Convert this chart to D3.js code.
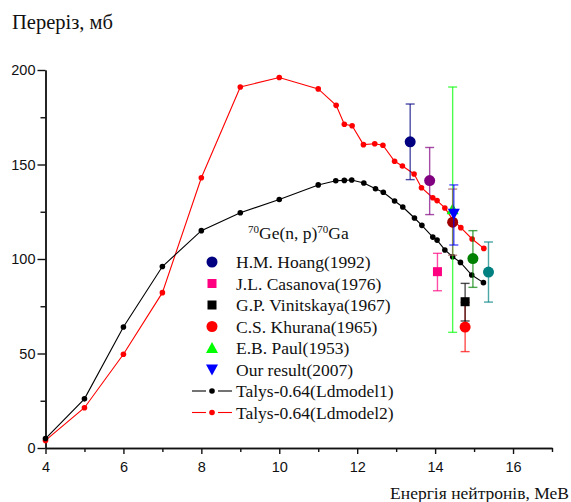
<!DOCTYPE html>
<html>
<head>
<meta charset="utf-8">
<script src="https://cdn.jsdelivr.net/npm/d3@7"></script>
<style>
  body { margin: 0; background: #fff; }
  svg { display: block; }
  .tick text { font-family: "Liberation Sans", Arial, sans-serif; font-size: 14.5px; fill: #111; }
  .serif { font-family: "Liberation Serif", "Times New Roman", serif; fill: #111; }
</style>
</head>
<body>
<svg id="chart" width="571" height="502"></svg>
<script>
// Talys-0.64 curves
const energies1 = [4,5,6,7,8,9,10,11,11.45,11.67,11.86,12.17,12.47,12.67,12.96,13.17,13.47,13.66,13.94,14.05,14.25,14.45,14.65,14.94,15.24];
const ldmodel1 = [5,26,64,96,115,124.5,131.5,139.2,141.4,141.6,141.8,140.2,137.2,135.3,130.7,127.5,121.7,117.8,111.6,110,104.8,101.2,98.2,91.5,87.5];
const energies2 = [4,5,6,7,8,9,10,11,11.46,11.67,11.87,12.16,12.45,12.66,12.96,13.16,13.46,13.65,13.94,14.05,14.25,14.46,14.66,14.95,15.25];
const ldmodel2 = [4,21.3,49.6,82.2,143,191,196,190,181.3,171.3,170.5,160.5,161,160.2,151.7,149.2,145,137.7,132.4,130.9,127,120.6,116.6,110.6,105.6];

// experimental points: energy, value, low, high
const hoang = [[13.36,162,142,182]];
const purple = [[13.86,141.5,123.5,159]];
const casanova = [[14.06,93.3,83.2,103]];
const vinitskaya = [[14.77,77.4,67.2,87.1]];
const khurana = [[14.77,64,51,77]];
const darkred = [[14.45,119.5,102,137]];
const paul = [[14.45,126.3,61.2,191]];
const ourResult = [[14.48,124,107.4,139.2]];
const greenPt = [[14.97,100.2,85,115]];
const tealPt = [[15.37,93.1,77.2,109]];

const legendLabels = ["H.M. Hoang(1992)","J.L. Casanova(1976)","G.P. Vinitskaya(1967)","C.S. Khurana(1965)","E.B. Paul(1953)","Our result(2007)","Talys-0.64(Ldmodel1)","Talys-0.64(Ldmodel2)"];

const svg = d3.select("#chart");
const x = d3.scaleLinear().domain([4,17]).range([45.5,552]);
const y = d3.scaleLinear().domain([0,200]).range([448,70]);

// axes
const xMajor = d3.axisBottom(x).tickValues([4,6,8,10,12,14,16]).tickSize(6).tickSizeOuter(0).tickFormat(d3.format("d"));
const xMinor = d3.axisBottom(x).tickValues([5,7,9,11,13,15,17]).tickSize(4).tickSizeOuter(0).tickFormat("");
const yMajor = d3.axisLeft(y).tickValues([0,50,100,150,200]).tickSize(8).tickSizeOuter(0);
const yMinor = d3.axisLeft(y).tickValues([25,75,125,175]).tickSize(5).tickSizeOuter(0).tickFormat("");

function styleAxis(g) {
  g.selectAll("path,line").attr("stroke","#111").attr("stroke-width",1.4);
}
svg.append("g").attr("transform","translate(0,448)").call(xMinor).call(styleAxis);
svg.append("g").attr("transform","translate(0,448)").call(xMajor).call(styleAxis)
  .selectAll("text").attr("dy","1.0em");
svg.append("g").attr("transform","translate(45.5,0)").call(yMinor).call(styleAxis);
svg.append("g").attr("transform","translate(45.5,0)").call(yMajor).call(styleAxis)
  .selectAll("text").attr("x",-10);

// titles
svg.append("text").attr("class","serif").attr("x",12).attr("y",29).attr("font-size",20.5).text("Переріз, мб");
svg.append("text").attr("class","serif").attr("x",569).attr("y",499).attr("text-anchor","end")
  .attr("font-size",17.5).text("Енергія нейтронів, МеВ");

// curves
const line = d3.line().x(d=>x(d[0])).y(d=>y(d[1]));
function curve(es, vs, color) {
  const pts = es.map((e,i)=>[e,vs[i]]);
  svg.append("path").datum(pts).attr("d",line).attr("fill","none").attr("stroke",color).attr("stroke-width",1.1);
  svg.append("g").selectAll("circle").data(pts).enter().append("circle")
    .attr("cx",d=>x(d[0])).attr("cy",d=>y(d[1])).attr("r",2.8).attr("fill",color);
}
curve(energies2, ldmodel2, "#ff0000");
curve(energies1, ldmodel1, "#000000");

// markers
function marker(g, shape, cx, cy, color) {
  if (shape==="circle") g.append("circle").attr("cx",cx).attr("cy",cy).attr("r",5.5).attr("fill",color);
  else if (shape==="square") g.append("rect").attr("x",cx-4.5).attr("y",cy-4.5).attr("width",9).attr("height",9).attr("fill",color);
  else if (shape==="up") g.append("path").attr("d",`M${cx},${cy-6}L${cx+6},${cy+5}L${cx-6},${cy+5}Z`).attr("fill",color);
  else if (shape==="down") g.append("path").attr("d",`M${cx},${cy+6}L${cx+6},${cy-5}L${cx-6},${cy-5}Z`).attr("fill",color);
}
function points(data, shape, color, barColor) {
  const g = svg.append("g");
  data.forEach(d=>{
    const cx = x(d[0]);
    g.append("line").attr("x1",cx).attr("x2",cx).attr("y1",y(d[2])).attr("y2",y(d[3]))
      .attr("stroke",barColor||color).attr("stroke-opacity",0.7).attr("stroke-width",1.4);
    [d[2],d[3]].forEach(v=>{
      g.append("line").attr("x1",cx-4.5).attr("x2",cx+4.5).attr("y1",y(v)).attr("y2",y(v))
        .attr("stroke",barColor||color).attr("stroke-opacity",0.7).attr("stroke-width",1.4);
    });
    marker(g, shape, cx, y(d[1]), color);
  });
}
points(paul, "up", "#00ff00");
points(hoang, "circle", "#000080");
points(purple, "circle", "#800080");
points(casanova, "square", "#ff0080");
points(khurana, "circle", "#ff0000");
points(vinitskaya, "square", "#000000");
points(darkred, "circle", "#a00000", "#a05050");
points(ourResult, "down", "#0000ff");
points(greenPt, "circle", "#008000");
points(tealPt, "circle", "#008080");

// legend
const leg = svg.append("g");
const title = leg.append("text").attr("class","serif").attr("x",248).attr("y",239).attr("font-size",17.5);
title.append("tspan").attr("font-size",11).attr("dy",-6).text("70");
title.append("tspan").attr("dy",6).text("Ge(n, p)");
title.append("tspan").attr("font-size",11).attr("dy",-6).text("70");
title.append("tspan").attr("dy",6).text("Ga");

const legShapes = [["circle","#000080"],["square","#ff0080"],["square","#000000"],["circle","#ff0000"],["up","#00ff00"],["down","#0000ff"],["line","#000000"],["line","#ff0000"]];
legendLabels.forEach((lab,i)=>{
  const cy = 262 + i*21.5;
  const [shape,color] = legShapes[i];
  if (shape==="line") {
    leg.append("line").attr("x1",192).attr("x2",206).attr("y1",cy).attr("y2",cy).attr("stroke",color).attr("stroke-width",1.1);
    leg.append("line").attr("x1",218).attr("x2",232).attr("y1",cy).attr("y2",cy).attr("stroke",color).attr("stroke-width",1.1);
    leg.append("circle").attr("cx",212).attr("cy",cy).attr("r",2.8).attr("fill",color);
  } else {
    marker(leg, shape, 212, cy, color);
  }
  leg.append("text").attr("class","serif").attr("x",236).attr("y",cy+6).attr("font-size",17.5).text(lab);
});
</script>
</body>
</html>
